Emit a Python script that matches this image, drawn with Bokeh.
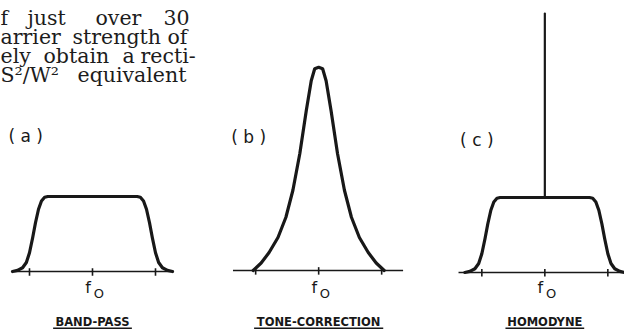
import numpy as np
from bokeh.plotting import figure
from bokeh.models import Range1d, Label
from bokeh.core.properties import value
from bokeh.embed import file_html
from bokeh.resources import INLINE

# ---------------- data ----------------
# frequency axis in units of the band edge (ticks at -1, 0 (f0), +1),
# amplitude relative to the flat pass-band level
tick_positions = [-1.0, 0.0, 1.0]

# (a)/(c) band-pass skirt: distance from f0 and relative level
bp_offset = [1.27, 1.19, 1.11, 1.05, 1.00, 0.95, 0.905, 0.857, 0.81, 0.76, 0.71]
bp_level = [0.00, 0.015, 0.05, 0.12, 0.25, 0.45, 0.65, 0.83, 0.94, 0.99, 1.00]

# (b) tone-correction peak: distance from f0 and relative level
tc_offset = [0.0, 0.063, 0.118, 0.197, 0.299, 0.409, 0.52, 0.646, 0.787, 0.913, 1.04]
tc_level = [2.71, 2.69, 2.53, 2.13, 1.56, 1.07, 0.71, 0.44, 0.24, 0.10, 0.0]

# (c) carrier line level at f0
carrier_level = 3.44

panel_ids = ["( a )", "( b )", "( c )"]
panel_names = ["BAND-PASS", "TONE-CORRECTION", "HOMODYNE"]
centre_f = "f"
centre_sub = "O"

paragraph = [
    ["f", "just", "over", "30"],
    ["arrier", "strength", "of"],
    ["ely", "obtain", "a", "recti-"],
    ["S\u00b2/W\u00b2", "equivalent"],
]

# ---------------- layout constants ----------------
W, H = 624, 331
INK = "#181818"
panel_shift = [0.0, 3.59, 7.18]          # horizontal position of each panel's f0
panel_base = [0.0, 0.013, -0.013]        # small vertical offsets of the three drawings
baseline_extent = [(-1.27, 1.29), (-1.36, 1.34), (-1.37, 1.40)]
id_pos = [(-1.06, 1.81), (-1.11, 1.79), (-1.08, 1.75)]
name_width = [1.25, 2.05, 1.25]

p = figure(width=W, height=H, output_backend="svg", toolbar_location=None,
           x_range=Range1d(-92 / 63, 532 / 63), y_range=Range1d(-60 / 75, 271 / 75),
           min_border=0, min_border_left=0, min_border_right=0,
           min_border_top=0, min_border_bottom=0)
p.axis.visible = False
p.grid.visible = False
p.outline_line_color = None
p.background_fill_color = "white"
p.border_fill_color = "white"


def bandpass_curve(shift, base):
    xs = [shift - o for o in bp_offset] + [shift + o for o in reversed(bp_offset)]
    ys = [base + v for v in bp_level] + [base + v for v in reversed(bp_level)]
    return xs, ys


def peak_curve(shift, base):
    xs = [shift - o for o in reversed(tc_offset)] + [shift + o for o in tc_offset[1:]]
    ys = [base + v for v in reversed(tc_level)] + [base + v for v in tc_level[1:]]
    return xs, ys


for i, shift in enumerate(panel_shift):
    b = panel_base[i]
    # baseline
    x0, x1 = baseline_extent[i]
    p.line([shift + x0, shift + x1], [b, b], line_color=INK, line_width=1.6)
    # ticks
    p.segment(x0=[shift + t for t in tick_positions], y0=[b + 0.045] * 3,
              x1=[shift + t for t in tick_positions], y1=[b - 0.055] * 3,
              line_color=INK, line_width=1.6)
    # response
    if i == 1:
        xs, ys = peak_curve(shift, b)
    else:
        xs, ys = bandpass_curve(shift, b)
    p.line(xs, ys, line_color=INK, line_width=3.2, line_join="round", line_cap="round")
    if i == 2:
        p.line([shift, shift], [b + bp_level[-1], carrier_level], line_color=INK,
               line_width=2.2, line_cap="round")

    # f0 label
    p.text(x=[shift - 0.07], y=[-0.21], text=[centre_f], text_font=value("DejaVu Sans"),
           text_font_size="16px", text_align="center", text_baseline="middle",
           text_color=INK)
    p.text(x=[shift + 0.1], y=[-0.29], text=[centre_sub], text_font=value("DejaVu Sans"),
           text_font_size="13px", text_align="center", text_baseline="middle",
           text_color=INK)
    # panel id
    ix, iy = id_pos[i]
    p.text(x=[shift + ix], y=[iy], text=[panel_ids[i]], text_font=value("DejaVu Sans"),
           text_font_size="17px", text_align="center", text_baseline="middle",
           text_color=INK)
    # panel name + underline
    p.text(x=[shift], y=[-0.675], text=[panel_names[i]], text_font=value("DejaVu Sans"),
           text_font_size="11.5px", text_font_style="bold", text_align="center",
           text_baseline="middle", text_color=INK)
    hw = name_width[i] / 2
    p.line([shift - hw, shift + hw], [-0.757, -0.757], line_color=INK, line_width=1.4)

# paragraph fragment at top-left (screen units, measured from the top-left)
word_x = [[0, 27, 95, 163], [0, 72, 167], [0, 43, 122, 140], [0, 77]]
line_base = [17, 36, 55, 74]
for words, xs, base in zip(paragraph, word_x, line_base):
    for w, x in zip(words, xs):
        p.add_layout(Label(x=x, y=H - base, x_units="screen", y_units="screen",
                           text=w, text_font="DejaVu Serif", text_font_size="20.5px",
                           text_baseline="alphabetic", text_align="left",
                           text_color="#1c1c1c"))

open("out.html", "w").write(file_html(p, INLINE))
